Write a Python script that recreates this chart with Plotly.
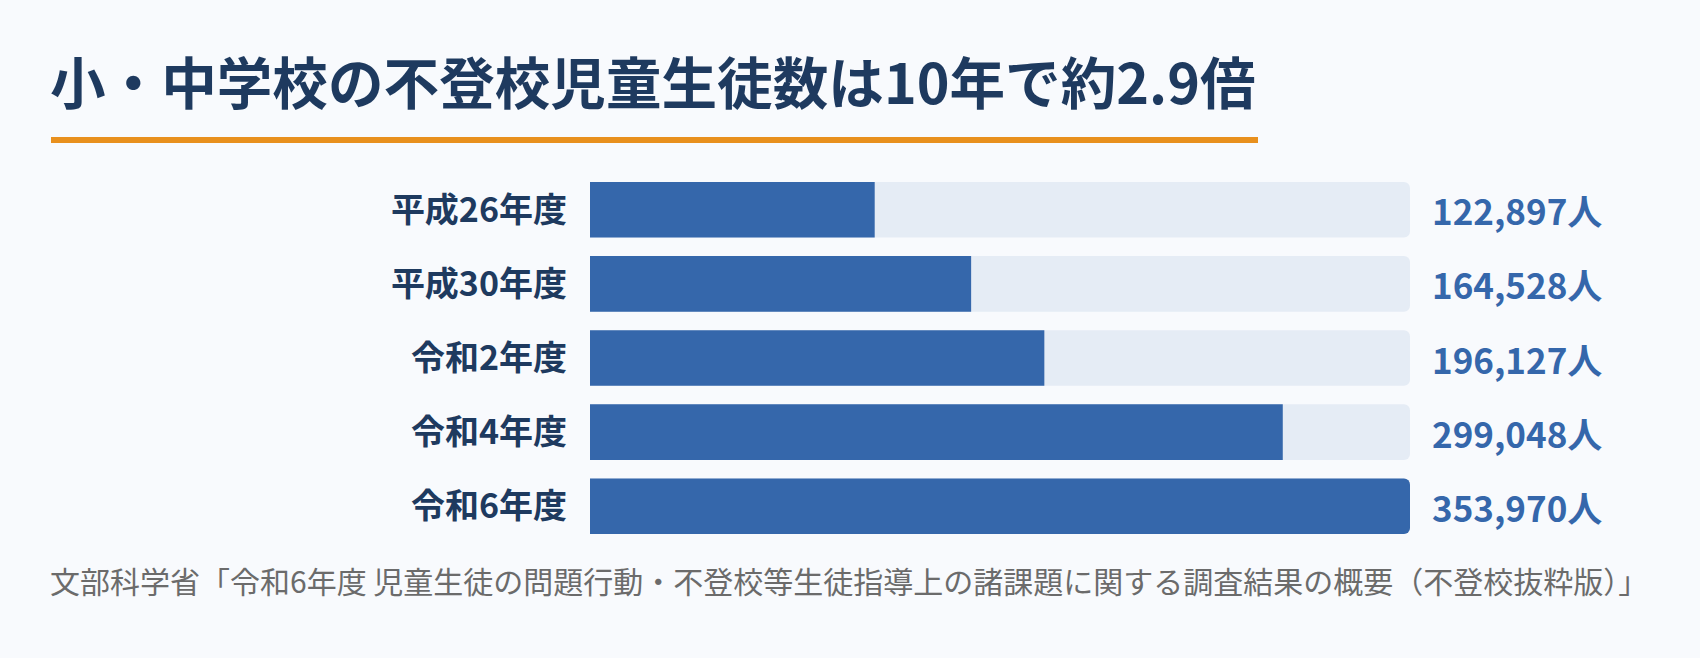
import plotly.graph_objects as go

categories = ["平成26年度", "平成30年度", "令和2年度", "令和4年度", "令和6年度"]
values = [122897, 164528, 196127, 299048, 353970]
value_labels = ["122,897人", "164,528人", "196,127人", "299,048人", "353,970人"]
title_text = "小・中学校の不登校児童生徒数は10年で約2.9倍"
source_text = "文部科学省「令和6年度 児童生徒の問題行動・不登校等生徒指導上の諸課題に関する調査結果の概要（不登校抜粋版）」"

W, H = 1700, 658
FONT = "Noto Sans CJK JP"
BG = "#F8FAFD"
BAR = "#3567AB"
TRACK = "#E5ECF5"
NAVY = "#1E3A5F"

vmax = max(values)

fig = go.Figure()
fig.add_trace(go.Bar(
    y=categories, x=[vmax] * len(values), orientation="h",
    marker=dict(color=TRACK, line=dict(width=0)), hoverinfo="skip", showlegend=False,
))
fig.add_trace(go.Bar(
    y=categories, x=values, orientation="h",
    marker=dict(color=BAR, line=dict(width=0)), showlegend=False,
))

for c, lab in zip(categories, value_labels):
    fig.add_annotation(
        x=vmax, y=c, xref="x", yref="y", text=lab, showarrow=False,
        xanchor="left", yanchor="middle", xshift=20,
        font=dict(family=FONT, size=35, color=BAR, weight="bold"),
    )

fig.add_annotation(
    x=48 / W, y=1 - 80 / H, xref="paper", yref="paper", text=title_text,
    showarrow=False, xanchor="left", yanchor="middle",
    font=dict(family=FONT, size=55.6, color=NAVY, weight="bold"),
)
fig.add_shape(
    type="rect", xref="paper", yref="paper",
    x0=51 / W, x1=1258 / W, y0=1 - 143 / H, y1=1 - 137 / H,
    fillcolor="#E8901E", line=dict(width=0), layer="above",
)
fig.add_annotation(
    x=48 / W, y=1 - 580 / H, xref="paper", yref="paper", text=source_text,
    showarrow=False, xanchor="left", yanchor="middle",
    font=dict(family=FONT, size=30, color="#6B6B6B"),
)

fig.update_layout(
    width=W, height=H, margin=dict(l=0, r=0, t=0, b=0),
    paper_bgcolor=BG, plot_bgcolor=BG,
    barmode="overlay", bargap=0.25, barcornerradius=6,
    xaxis=dict(domain=[590 / W, 1410 / W], range=[0, vmax], visible=False, fixedrange=True),
    yaxis=dict(
        domain=[1 - 543.25 / H, 1 - 172.75 / H], autorange="reversed",
        showgrid=False, zeroline=False, showline=False, ticks="",
        ticklabelstandoff=22, fixedrange=True,
        tickfont=dict(family=FONT, size=34, color=NAVY, weight="bold"),
    ),
    showlegend=False,
)

fig.write_html(
    "out.html",
    config={"displayModeBar": False},
    post_script="document.body.style.margin='0';document.body.style.background='%s';" % BG,
)
